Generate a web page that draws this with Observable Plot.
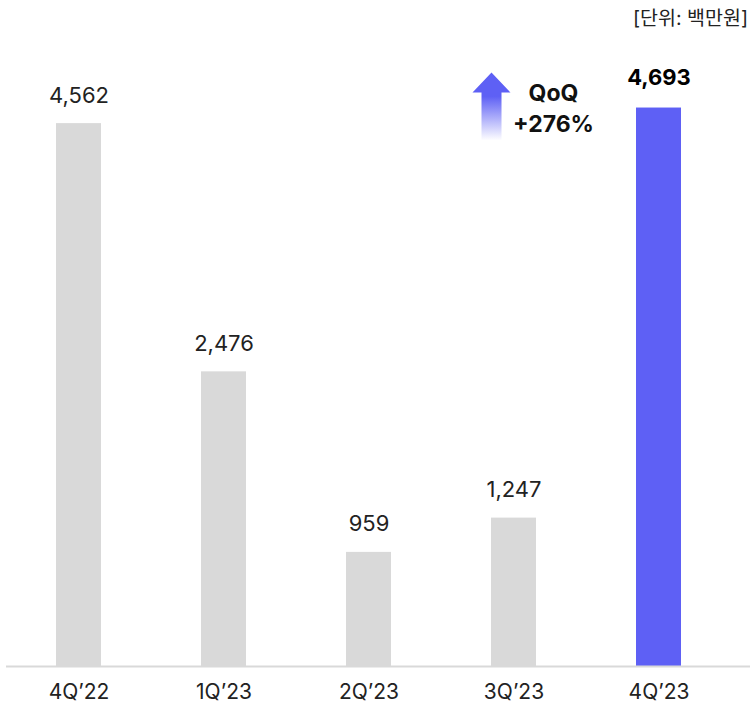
<!DOCTYPE html>
<html><head><meta charset="utf-8">
<script src="https://cdn.jsdelivr.net/npm/d3@7"></script>
<script src="https://cdn.jsdelivr.net/npm/@observablehq/plot@0.6"></script>
<style>
body{margin:0;background:#fff;}
#chart svg{display:block;}
</style></head><body>
<div id="chart"></div>
<script>
const quarters = ["4Q’22","1Q’23","2Q’23","3Q’23","4Q’23"];
const values = [4562, 2476, 959, 1247, 4693];
const highlight = [false, false, false, false, true];
const unitLabel = "[단위: 백만원]";
const qoqLines = ["QoQ", "+276%"];

const data = quarters.map((q,i)=>({q, v: values[i], hi: highlight[i]}));
const font = "Inter, 'Noto Sans CJK KR', sans-serif";

const plot = Plot.plot({
  width: 755, height: 711,
  marginLeft: 6, marginRight: 5, marginTop: 71, marginBottom: 45,
  style: {fontFamily: font, background: "#fff"},
  x: {domain: quarters, paddingInner: 0.69, paddingOuter: 0.41, align: 0.42, axis: null},
  y: {domain: [0, 5000], axis: null},
  marks: [
    Plot.barY(data, {x: "q", y: "v", fill: d => d.hi ? "#5e60f5" : "#d9d9d9"}),
    Plot.ruleY([0], {stroke: "#d9d9d9", strokeWidth: 2}),
    Plot.text(data.filter(d => !d.hi), {x: "q", y: "v", text: d => d3.format(",")(d.v), dy: -28,
      fontSize: 22, fill: "#222"}),
    Plot.text(data.filter(d => d.hi), {x: "q", y: "v", text: d => d3.format(",")(d.v), dy: -30,
      fontSize: 22, fill: "#000", fontWeight: "bold"}),
    Plot.text(data, {x: "q", y: 0, text: "q", dy: 26, fontSize: 21, fill: "#222"}),
  ]
});
document.getElementById("chart").appendChild(plot);

const svg = d3.select(plot);
const xs = plot.scale("x"), ys = plot.scale("y");
// unit label
svg.append("text").attr("x", 748).attr("y", 20).attr("text-anchor","end")
  .attr("dominant-baseline","middle").attr("font-size",19.5).attr("fill","#222")
  .attr("font-family", font).text(unitLabel);

// QoQ arrow between 3Q'23 and 4Q'23
const cx = xs.apply(quarters[4]) - 167 + xs.bandwidth/2;
const yTop = ys.apply(values[4]) - 35;
const defs = svg.append("defs");
const g = defs.append("linearGradient").attr("id","arrowGrad").attr("x1",0).attr("y1",0).attr("x2",0).attr("y2",1);
g.append("stop").attr("offset","0%").attr("stop-color","#5e60f5");
g.append("stop").attr("offset","35%").attr("stop-color","#5e60f5");
g.append("stop").attr("offset","100%").attr("stop-color","#5e60f5").attr("stop-opacity",0);
const h = 68;
svg.append("path")
  .attr("d", `M${cx},${yTop} L${cx+19},${yTop+20} L${cx+10},${yTop+20} L${cx+10},${yTop+h} L${cx-10},${yTop+h} L${cx-10},${yTop+20} L${cx-19},${yTop+20} Z`)
  .attr("fill","url(#arrowGrad)");
const tx = cx + 62;
qoqLines.forEach((t,i)=>{
  svg.append("text").attr("x", tx).attr("y", yTop + 22 + i*31).attr("text-anchor","middle")
    .attr("dominant-baseline","middle").attr("font-size",23).attr("font-weight","bold")
    .attr("fill","#111").attr("font-family", font).text(t);
});
</script>
</body></html>
